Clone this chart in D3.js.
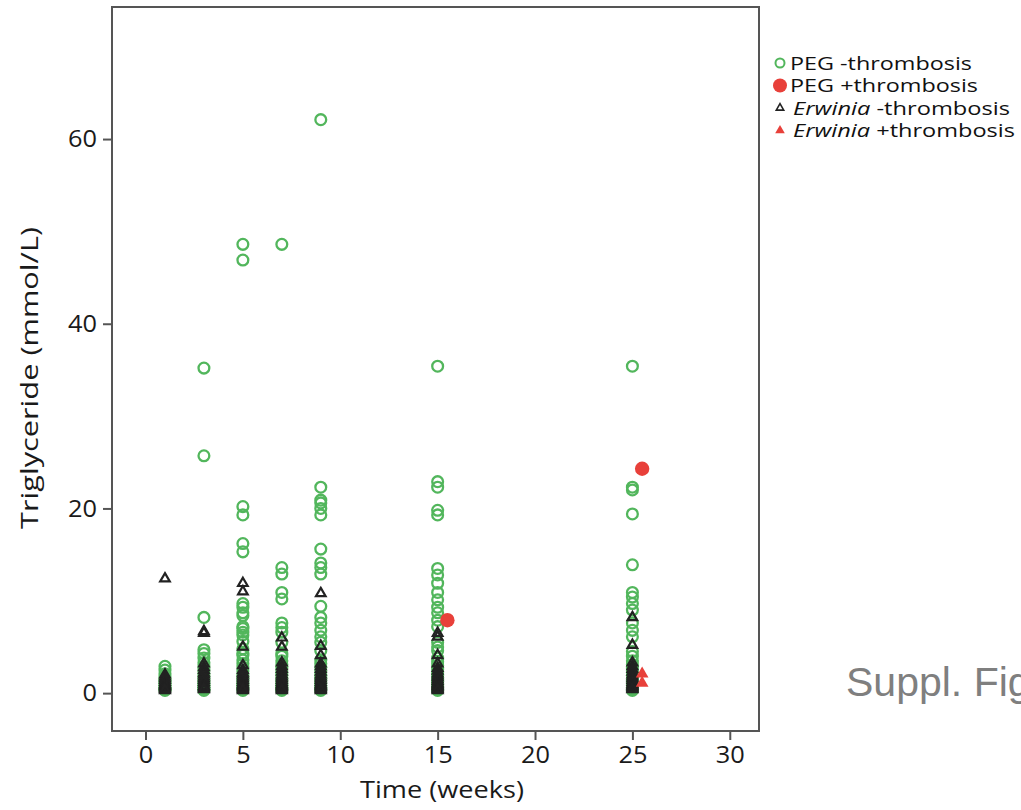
<!DOCTYPE html>
<html>
  <head>
    <meta charset="utf-8">
    <script src="https://d3js.org/d3.v7.min.js"></script>
    <title>Triglyceride over time</title>
    <style>
      body { margin: 0; background: #fff; }
    </style>
  </head>
  <body>
    <svg width="1021" height="810"></svg>
    <script>
      // weeks at which samples were taken
      const weeks = [1, 3, 5, 7, 9, 15, 25];

      // PEG -thrombosis, one list per week (same order as weeks)
      const pegNeg = [
        [2.9, 2.5, 2.1, 1.8, 1.5, 1.3, 1.1, 0.9, 0.7, 0.5, 0.4, 0.3],
        [35.2, 25.7, 8.2, 4.7, 4.3, 3.8, 3.3, 2.9, 2.5, 2.1, 1.8, 1.5, 1.2, 1.0, 0.8, 0.6, 0.4, 0.3],
        [48.6, 46.9, 20.2, 19.3, 16.2, 15.3, 9.7, 9.3, 8.7, 8.4, 7.2, 7.0, 6.6, 6.3, 5.6, 4.8, 4.3, 4.1, 3.6, 3.2, 2.8, 2.4, 2.0, 1.7, 1.4, 1.1, 0.9, 0.7, 0.5, 0.3],
        [48.6, 13.6, 12.9, 10.9, 10.2, 7.6, 7.1, 6.6, 5.5, 4.3, 4.0, 3.5, 3.1, 2.7, 2.3, 2.0, 1.6, 1.3, 1.0, 0.8, 0.6, 0.4, 0.3],
        [62.1, 22.3, 20.9, 20.6, 20.0, 19.3, 15.6, 14.1, 13.6, 12.9, 9.4, 8.2, 7.6, 6.8, 6.1, 5.5, 4.6, 3.6, 3.2, 2.8, 2.4, 2.0, 1.7, 1.4, 1.1, 0.8, 0.6, 0.4, 0.3],
        [35.4, 22.9, 22.3, 19.8, 19.3, 13.5, 12.8, 11.9, 10.9, 10.1, 9.3, 8.7, 7.9, 7.2, 5.5, 5.0, 4.6, 3.8, 3.4, 3.0, 2.6, 2.2, 1.9, 1.6, 1.3, 1.0, 0.8, 0.6, 0.4, 0.3],
        [35.4, 22.3, 22.0, 19.4, 13.9, 10.9, 10.4, 9.7, 9.0, 7.6, 6.8, 6.1, 4.5, 4.0, 3.5, 3.1, 2.7, 2.3, 1.9, 1.5, 1.2, 0.9, 0.6, 0.4, 0.3]
      ];

      // Erwinia -thrombosis, one list per week
      const erwNeg = [
        [12.4, 2.0, 1.8, 1.6, 1.4, 1.2, 1.0, 0.9, 0.8, 0.7, 0.6, 0.5, 0.4, 0.3],
        [6.7, 6.5, 3.2, 2.8, 2.5, 2.2, 2.0, 1.8, 1.6, 1.4, 1.2, 1.0, 0.8, 0.7, 0.6, 0.5, 0.4],
        [11.9, 11.0, 5.0, 3.0, 2.5, 2.2, 2.0, 1.8, 1.6, 1.4, 1.2, 1.0, 0.9, 0.8, 0.7, 0.6, 0.5, 0.4, 0.3],
        [6.0, 5.0, 3.3, 2.9, 2.6, 2.3, 2.0, 1.8, 1.6, 1.4, 1.2, 1.0, 0.9, 0.8, 0.7, 0.6, 0.5, 0.4, 0.3],
        [10.8, 5.1, 4.1, 3.2, 2.9, 2.6, 2.3, 2.0, 1.8, 1.6, 1.4, 1.2, 1.0, 0.9, 0.8, 0.7, 0.6, 0.5, 0.4, 0.3],
        [6.5, 6.1, 4.1, 3.2, 2.7, 2.4, 2.1, 1.9, 1.7, 1.5, 1.3, 1.1, 1.0, 0.9, 0.8, 0.7, 0.6, 0.5, 0.4, 0.3],
        [8.2, 5.2, 3.3, 2.9, 2.6, 2.3, 2.0, 1.8, 1.6, 1.4, 1.2, 1.0, 0.9, 0.8, 0.7, 0.6, 0.5, 0.4]
      ];

      // +thrombosis cases (plotted slightly right of the week)
      const pegPosTime = [15.5, 25.5];
      const pegPosValue = [7.9, 24.3];
      const erwPosTime = [25.5, 25.5];
      const erwPosValue = [2.1, 1.1];

      const xTicks = [0, 5, 10, 15, 20, 25, 30];
      const yTicks = [0, 20, 40, 60];

      const legendLabels = [
        { it: '', post: 'PEG -thrombosis' },
        { it: '', post: 'PEG +thrombosis' },
        { it: 'Erwinia', post: ' -thrombosis' },
        { it: 'Erwinia', post: ' +thrombosis' }
      ];
      // rendered widths of the legend texts in the picture
      const legendWidths = [182, 188, 217, 222];

      const green = '#52b65c';
      const red = '#e8403a';
      const font = '"Open Sans", Lato, sans-serif';
      const ink = '#1a1a1a';

      const svg = d3.select('svg');
      const plotLeft = 112, plotRight = 759, plotTop = 7, plotBottom = 731;

      const xScale = d3.scaleLinear().domain([-1.72, 31.5]).range([plotLeft, plotRight]);
      const yScale = d3.scaleLinear().domain([-4.1, 74.3]).range([plotBottom, plotTop]);

      // flatten per-week lists to points
      const toPoints = lists => lists.flatMap((vals, i) => vals.map(v => ({ t: weeks[i], v })));
      const greenPts = toPoints(pegNeg);
      const blackPts = toPoints(erwNeg);
      const redCircles = pegPosTime.map((t, i) => ({ t, v: pegPosValue[i] }));
      const redTris = erwPosTime.map((t, i) => ({ t, v: erwPosValue[i] }));

      // frame
      svg.append('rect')
        .attr('x', plotLeft).attr('y', plotTop)
        .attr('width', plotRight - plotLeft).attr('height', plotBottom - plotTop)
        .attr('fill', 'none').attr('stroke', '#555').attr('stroke-width', 2);

      // axes
      const xAxis = svg.append('g')
        .attr('transform', `translate(0,${plotBottom})`)
        .call(d3.axisBottom(xScale).tickValues(xTicks).tickSize(9).tickPadding(6));
      const yAxis = svg.append('g')
        .attr('transform', `translate(${plotLeft},0)`)
        .call(d3.axisLeft(yScale).tickValues(yTicks).tickSize(9).tickPadding(6));
      [xAxis, yAxis].forEach(g => {
        g.select('.domain').remove();
        g.selectAll('line').attr('stroke', '#555').attr('stroke-width', 2);
        g.selectAll('text')
          .attr('font-family', font).attr('font-size', 24).attr('fill', ink)
          .attr('textLength', function () { return this.textContent.length * 14.5; })
          .attr('lengthAdjust', 'spacingAndGlyphs');
      });

      // axis titles
      svg.append('text')
        .attr('x', 442).attr('y', 798)
        .attr('text-anchor', 'middle')
        .attr('font-family', font).attr('font-size', 24).attr('fill', ink)
        .attr('textLength', 164).attr('lengthAdjust', 'spacingAndGlyphs')
        .text('Time (weeks)');
      svg.append('text')
        .attr('transform', 'translate(38,378) rotate(-90)')
        .attr('text-anchor', 'middle')
        .attr('font-family', font).attr('font-size', 24).attr('fill', ink)
        .attr('textLength', 302).attr('lengthAdjust', 'spacingAndGlyphs')
        .text('Triglyceride (mmol/L)');

      const tri = d3.symbol().type(d3.symbolTriangle);

      // PEG -thrombosis
      svg.append('g').selectAll('circle').data(greenPts)
        .enter().append('circle')
          .attr('cx', d => xScale(d.t))
          .attr('cy', d => yScale(d.v))
          .attr('r', 5.4)
          .attr('fill', 'none')
          .attr('stroke', green)
          .attr('stroke-width', 2.3);

      // Erwinia -thrombosis
      svg.append('g').selectAll('path').data(blackPts)
        .enter().append('path')
          .attr('transform', d => `translate(${xScale(d.t)},${yScale(d.v)})`)
          .attr('d', tri.size(40)())
          .attr('fill', 'none')
          .attr('stroke', '#222')
          .attr('stroke-width', 2.2);

      // PEG +thrombosis
      svg.append('g').selectAll('circle').data(redCircles)
        .enter().append('circle')
          .attr('cx', d => xScale(d.t))
          .attr('cy', d => yScale(d.v))
          .attr('r', 7.2)
          .attr('fill', red);

      // Erwinia +thrombosis
      svg.append('g').selectAll('path').data(redTris)
        .enter().append('path')
          .attr('transform', d => `translate(${xScale(d.t)},${yScale(d.v)})`)
          .attr('d', tri.size(70)())
          .attr('fill', red);

      // legend
      const legend = svg.append('g').attr('transform', 'translate(780,63)');
      const rowH = 22.5;
      legendLabels.forEach((l, i) => {
        const row = legend.append('g').attr('transform', `translate(0,${i * rowH})`);
        if (i === 0) row.append('circle').attr('r', 4.5).attr('fill', 'none').attr('stroke', green).attr('stroke-width', 2);
        if (i === 1) row.append('circle').attr('r', 7).attr('fill', red);
        if (i === 2) row.append('path').attr('d', tri.size(24)()).attr('fill', 'none').attr('stroke', '#222').attr('stroke-width', 1.6);
        if (i === 3) row.append('path').attr('d', tri.size(40)()).attr('fill', red);
        const t = row.append('text')
          .attr('x', i < 2 ? 10 : 13).attr('y', 6.5)
          .attr('font-family', font).attr('font-size', 18).attr('fill', '#111')
          .attr('textLength', legendWidths[i]).attr('lengthAdjust', 'spacingAndGlyphs');
        if (l.it) t.append('tspan').attr('font-style', 'italic').text(l.it);
        t.append('tspan').text(l.post);
      });

      // caption fragment at right edge
      svg.append('text')
        .attr('x', 846).attr('y', 696)
        .attr('font-family', '"Liberation Sans", Arial, sans-serif')
        .attr('font-size', 41).attr('fill', '#7f7f7f')
        .text('Suppl. Fig');
    </script>
  </body>
</html>
